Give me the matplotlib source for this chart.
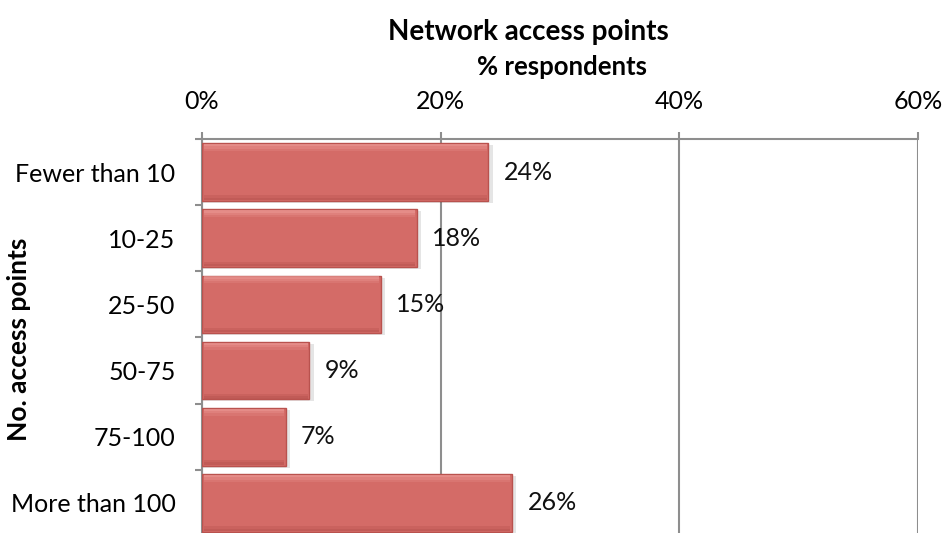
import numpy as np
import matplotlib.pyplot as plt

# survey: number of network access points per organisation
categories = ["Fewer than 10", "10-25", "25-50", "50-75", "75-100", "More than 100"]
share = [24, 18, 15, 9, 7, 26]
x_ticks = [0, 20, 40, 60]

plt.rcParams['font.family'] = ['Lato', 'DejaVu Sans']

GRID = '#8E8E8E'
BAR = '#D46B67'

fig = plt.figure(figsize=(9.46, 5.33), dpi=100)
ax = fig.add_axes([0.2135, -0.0056, 0.7569, 0.7448])

y = np.arange(len(categories))
h = 0.87
vals = np.array(share, dtype=float)

# soft drop shadow, then the bar body with a darker rim
ax.barh(y + 0.03, vals + 0.25, height=h, left=0.1, color='#000000',
        alpha=0.10, zorder=2, linewidth=0)
ax.barh(y, vals, height=h, color=BAR, edgecolor='#B9524E', linewidth=1.0, zorder=3)

# light bevel fading down from the top edge, dark bevel at the bottom edge
for k, a in enumerate([0.55, 0.35, 0.18]):
    ax.barh(y - h / 2 + 0.03 + k * 0.035, vals - 0.3, height=0.035, left=0.15,
            color='#F4A8A4', alpha=a, zorder=4, linewidth=0)
for k, a in enumerate([0.35, 0.18]):
    ax.barh(y + h / 2 - 0.03 - k * 0.035, vals - 0.3, height=0.035, left=0.15,
            color='#9E3E3A', alpha=a, zorder=4, linewidth=0)

for yi, v in zip(y, share):
    ax.annotate(f"{v}%", xy=(v, yi), xytext=(11, 0), textcoords='offset points',
                va='center', ha='left', fontsize=18, color='#111111')

ax.set_xlim(0, 60)
ax.set_ylim(len(categories) - 0.5, -0.5)

ax.xaxis.tick_top()
ax.set_xticks(x_ticks)
ax.set_xticklabels([f"{t}%" for t in x_ticks], fontsize=18)
ax.tick_params(axis='x', length=5, width=1.5, color=GRID, pad=13.5)

ax.set_yticks(y)
ax.set_yticklabels(categories, fontsize=18)
ax.set_yticks(np.arange(len(categories) + 1) - 0.5, minor=True)
ax.tick_params(axis='y', which='major', length=0, pad=19)
ax.tick_params(axis='y', which='minor', length=5, width=1.5, color=GRID)

ax.grid(axis='x', color=GRID, linewidth=1.5, zorder=1)
ax.set_axisbelow(True)

for s in ['right', 'bottom']:
    ax.spines[s].set_visible(False)
for s in ['left', 'top']:
    ax.spines[s].set_color(GRID)
    ax.spines[s].set_linewidth(1.5)

ax.set_ylabel("No. access points", fontsize=19, fontweight='bold')
ax.yaxis.set_label_coords(-0.2385, 0.495)

fig.text(528 / 946, 1 - 32 / 533, "Network access points", ha='center', va='center',
         fontsize=20, fontweight='bold')
fig.text(562 / 946, 1 - 67 / 533, "% respondents", ha='center', va='center',
         fontsize=18.5, fontweight='bold')

fig.savefig('out.png', dpi=100, facecolor='white')
